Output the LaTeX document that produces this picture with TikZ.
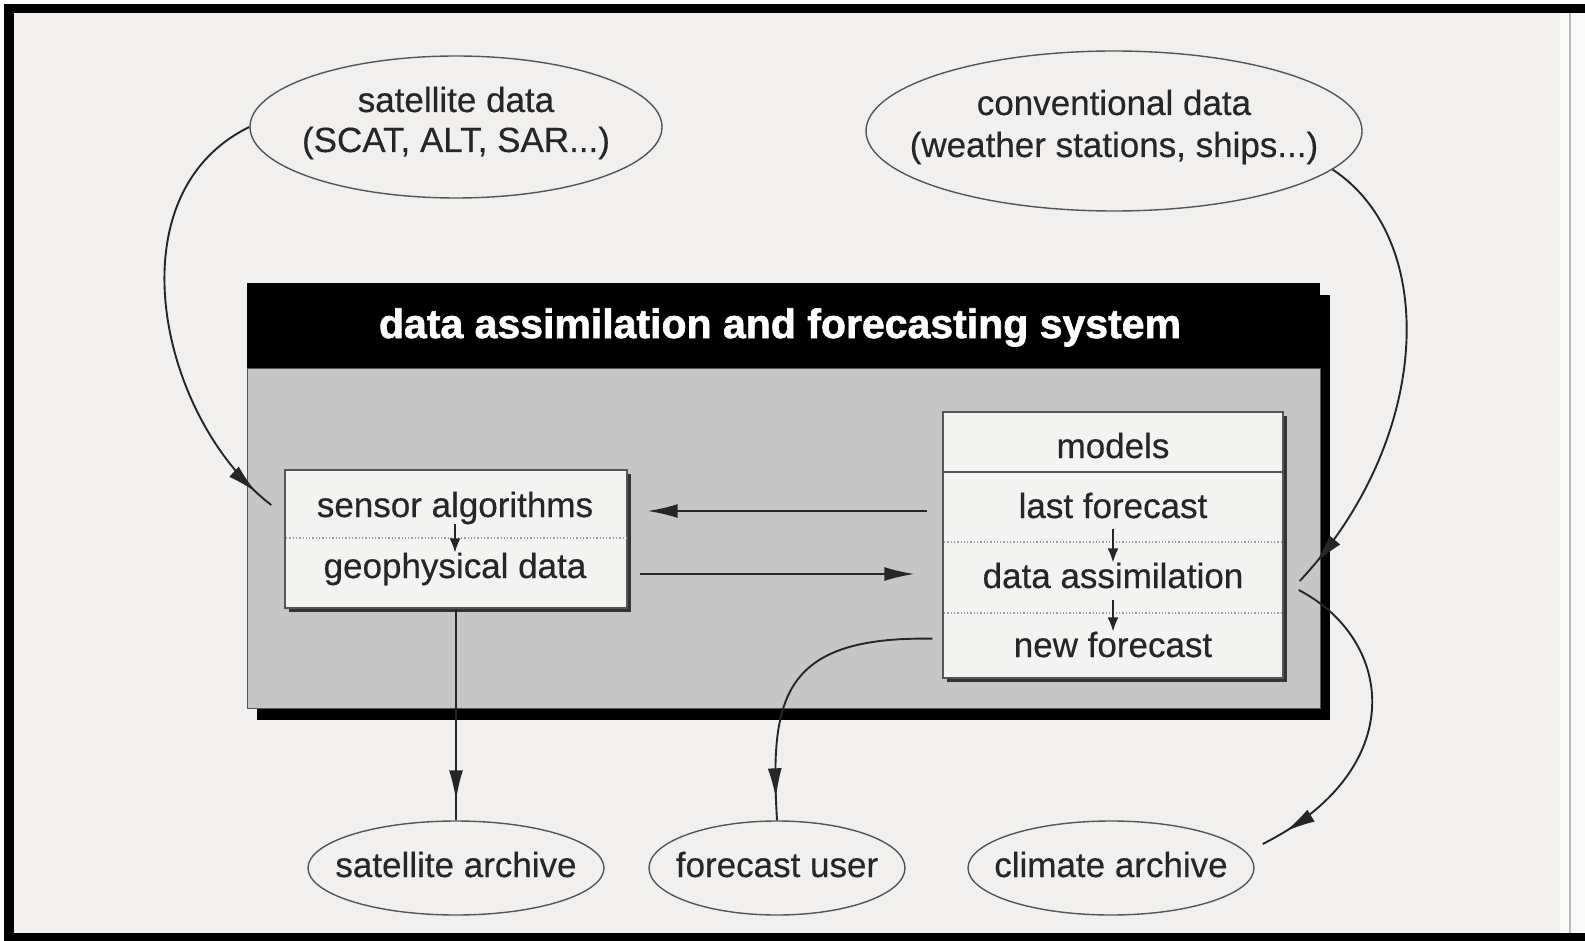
\documentclass[tikz,border=0pt]{standalone}
\usepackage{fontspec}
\setmainfont{Liberation Sans}[FakeBold=0.4, BoldFeatures={FakeBold=1.6}]
\usetikzlibrary{shapes.geometric, arrows.meta, decorations.markings, shadows, calc}

\definecolor{paper}{HTML}{F1F0EE}
\definecolor{ink}{HTML}{262626}
\definecolor{panelgray}{HTML}{C6C6C6}
\definecolor{boxfill}{HTML}{F3F3F1}
\definecolor{rim}{HTML}{555555}

\begin{document}
\begin{tikzpicture}[x=1pt, y=-1pt,
  txt/.style={font=\fontsize{35}{41}\selectfont, text=ink, inner sep=0pt, anchor=base},
  oval/.style={ellipse, draw=rim, line width=1.4pt, inner sep=0pt},
  panelbox/.style={rectangle, draw=rim, line width=1.4pt, fill=boxfill, inner sep=0pt,
    drop shadow={shadow xshift=4pt, shadow yshift=-4pt, fill=black!80, opacity=1}},
  link/.style={line width=1.9pt, draw=ink},
  tipat/.style={postaction={decorate},
    decoration={markings, mark=at position #1 with {\arrow{Latex[length=30pt,width=14pt]}}}},
  bigtip/.style={-{Latex[length=30pt,width=14pt]}},
  smalltip/.style={-{Latex[length=14pt,width=11pt]}, line width=1.7pt, draw=ink},
  sep/.style={draw=gray!75, line width=1.3pt, dotted},
]
\useasboundingbox (0,0) rectangle (1585,941);

% page and frame
\fill[white] (0,0) rectangle (1585,941);
\fill[paper] (14,13) rectangle (1585,933);
\fill[white!60!paper] (1560,13) rectangle (1585,933);
\draw[gray!55, line width=2pt] (1570,13) -- (1570,933);
\fill[black] (4,4) rectangle (1585,13);
\fill[black] (4,4) rectangle (14,941);
\fill[black] (4,933) rectangle (1585,941);

% system panel with drop shadow and title bar
\fill[black] (257,295) rectangle (1330,720);
\node[rectangle, fill=panelgray, draw=rim, line width=1pt, inner sep=0pt,
      minimum width=1073pt, minimum height=340pt, anchor=north west] (system) at (247,368) {};
\node[rectangle, fill=black, inner sep=0pt, minimum width=1073pt, minimum height=85pt,
      anchor=south west] (titlebar) at (247,368) {};
\node[font=\bfseries\fontsize{41}{41}\selectfont, text=white, inner sep=0pt, anchor=base]
      (title) at (780,338) {data assimilation and forecasting system};

% sensor box
\node[panelbox, minimum width=342pt, minimum height=138pt] (lbox) at (456,539) {};
\draw[sep] (286,538) -- (626,538);
\node[txt] (sensor) at (455,517) {sensor algorithms};
\node[txt] (geo) at (455,578) {geophysical data};
\draw[smalltip] (sensor.south) -- (geo.north);

% model box
\node[panelbox, minimum width=340pt, minimum height=266pt] (rbox) at (1113,545) {};
\draw[rim, line width=1.4pt] (943,472) -- (1283,472);
\draw[sep] (944,542) -- (1282,542);
\draw[sep] (944,613) -- (1282,613);
\node[txt] (models) at (1113,458) {models};
\node[txt] (lastfc) at (1113,518) {last forecast};
\node[txt] (assim) at (1113,588) {data assimilation};
\node[txt] (newfc) at (1113,657) {new forecast};
\draw[smalltip] ([yshift=-10pt]lastfc.south) -- (assim.north);
\draw[smalltip] ([yshift=-11pt]assim.south) -- (newfc.north);

% data sources
\node[oval, minimum width=412pt, minimum height=142pt] (satdata) at (456,127) {};
\node[txt] (satdataA) at (456,112) {satellite data};
\node[txt] (satdataB) at (456,152) {(SCAT, ALT, SAR...)};
\node[oval, minimum width=496pt, minimum height=160pt] (conv) at (1114,131) {};
\node[txt] (convA) at (1114,115) {conventional data};
\node[txt] (convB) at (1114,157) {(weather stations, ships...)};

% products
\node[oval, minimum width=296pt, minimum height=94pt] (satarch) at (456,868) {};
\node[txt] (satarchT) at (456,877) {satellite archive};
\node[oval, minimum width=256pt, minimum height=94pt] (fcuser) at (777,868) {};
\node[txt] (fcuserT) at (777,877) {forecast user};
\node[oval, minimum width=286pt, minimum height=94pt] (clim) at (1111,868) {};
\node[txt] (climT) at (1111,877) {climate archive};

% connectors
\draw[link, bigtip] ($(rbox.west)+(-15,-34)$) -- ($(lbox.east)+(20,-28)$);
\draw[link, bigtip] ($(lbox.east)+(12,35)$) -- ($(rbox.west)+(-28,29)$);
\draw[link, tipat=-20pt] (lbox.south) -- (satarch.north);
\draw[link, tipat=-22pt] ($(rbox.south west)+(-10,-40)$)
  .. controls (780,636) and (770,700) .. (fcuser.north);
\draw[link, tipat=-20pt] (satdata.west)
  .. controls (110,195) and (160,420) .. ($(lbox.west)+(-13,-34)$);
\draw[link, tipat=-24pt] (conv.-10)
  .. controls (1440,240) and (1432,440) .. ($(rbox.east)+(16,36)$);
\draw[link, tipat=-26pt] ($(rbox.east)+(15,45)$)
  .. controls (1395,640) and (1410,770) .. ($(clim.east)+(8,-24)$);
\end{tikzpicture}
\end{document}
